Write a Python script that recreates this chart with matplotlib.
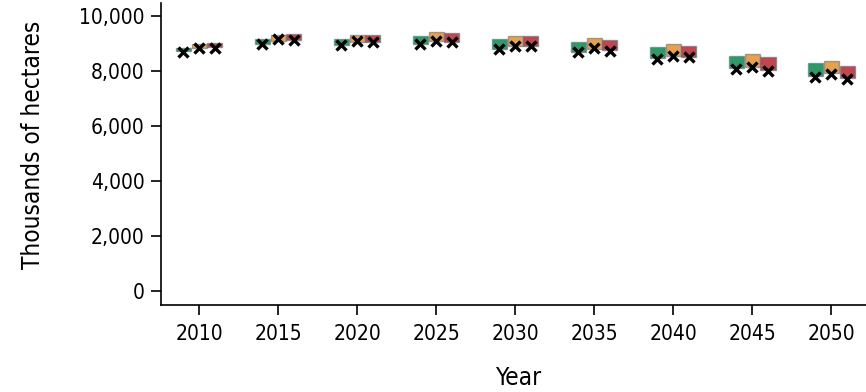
import numpy as np
import matplotlib.pyplot as plt
from matplotlib.ticker import FuncFormatter

plt.rcParams['font.family'] = 'DejaVu Sans'
plt.rcParams['font.stretch'] = 'condensed'

years = [2010, 2015, 2020, 2025, 2030, 2035, 2040, 2045, 2050]

# range (low/high) of each scenario, plus the point marked with an x
green_lo = [8720, 8960, 8935, 8970, 8790, 8670, 8450, 8090, 7810]
green_hi = [8840, 9145, 9155, 9275, 9155, 9055, 8875, 8535, 8270]
green_x = [8695, 8960, 8935, 8970, 8780, 8670, 8420, 8065, 7785]

orange_lo = [8840, 9090, 9055, 9080, 8900, 8790, 8535, 8150, 7910]
orange_hi = [8960, 9300, 9300, 9395, 9275, 9180, 8960, 8610, 8355]
orange_x = [8815, 9140, 9080, 9080, 8900, 8815, 8535, 8125, 7885]

red_lo = [8875, 9115, 9055, 9055, 8900, 8755, 8490, 8030, 7725]
red_hi = [9000, 9325, 9300, 9360, 9240, 9115, 8910, 8490, 8185]
red_x = [8840, 9115, 9055, 9055, 8900, 8730, 8490, 8005, 7690]

series = [
    (green_lo, green_hi, green_x, '#2f9a68', -1),
    (orange_lo, orange_hi, orange_x, '#e9a04e', 0),
    (red_lo, red_hi, red_x, '#c1464f', 1),
]

fig = plt.figure(figsize=(8.66, 3.92), dpi=100)
ax = fig.add_axes([0.186, 0.222, 0.814, 0.77])

yr = np.array(years)
for lo, hi, xs, col, off in series:
    lo = np.array(lo)
    hi = np.array(hi)
    ax.bar(yr + off, hi - lo, bottom=lo, width=0.95, color=col,
           edgecolor=(0.35, 0.45, 0.5, 0.6), linewidth=1, zorder=2)
    ax.plot(yr + off, xs, linestyle='none', marker='x', color='black',
            markersize=7.5, markeredgewidth=2.4, zorder=3)

ax.set_xlim(2007.6, 2052.2)
ax.set_ylim(-500, 10450)
ax.set_xticks(years)
ax.set_yticks([0, 2000, 4000, 6000, 8000, 10000])
ax.yaxis.set_major_formatter(FuncFormatter(lambda v, p: f'{int(v):,}'))

for s in ['top', 'right']:
    ax.spines[s].set_visible(False)
for s in ['left', 'bottom']:
    ax.spines[s].set_linewidth(1.2)

ax.tick_params(axis='both', labelsize=15, length=7, width=1.2, colors='black')
ax.tick_params(axis='x', pad=7)
ax.tick_params(axis='y', pad=5)
ax.set_xlabel('Year', fontsize=17.5, va='center')
ax.set_ylabel('Thousands of hectares', fontsize=17.5, va='center')
ax.xaxis.set_label_coords(0.506, -0.242)
ax.yaxis.set_label_coords(-0.182, 0.53)

fig.savefig('out.png', dpi=100)
